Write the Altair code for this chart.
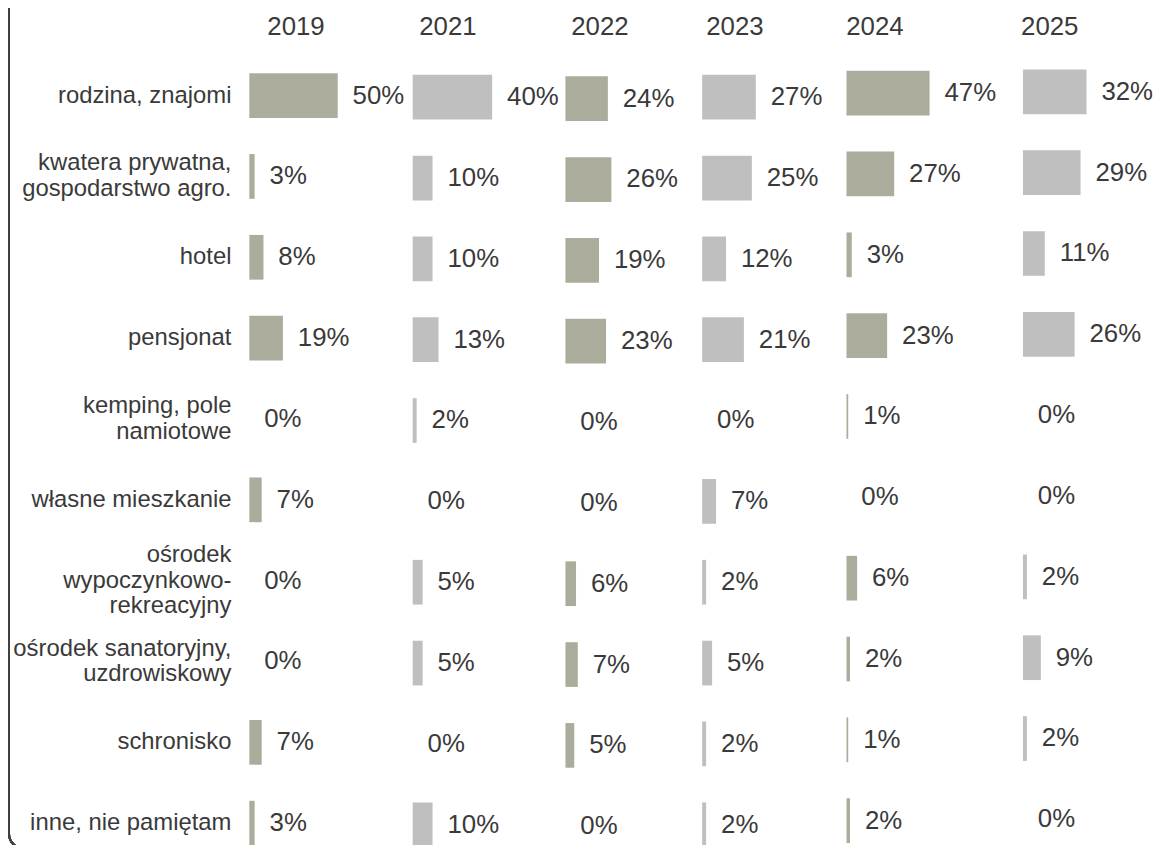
import altair as alt
import pandas as pd

categories = [
    "rodzina, znajomi",
    "kwatera prywatna,|gospodarstwo agro.",
    "hotel",
    "pensjonat",
    "kemping, pole|namiotowe",
    "własne mieszkanie",
    "ośrodek|wypoczynkowo-|rekreacyjny",
    "ośrodek sanatoryjny,|uzdrowiskowy",
    "schronisko",
    "inne, nie pamiętam",
]
years = ["2019", "2021", "2022", "2023", "2024", "2025"]

v2019 = [50, 3, 8, 19, 0, 7, 0, 0, 7, 3]
v2021 = [40, 10, 10, 13, 2, 0, 5, 5, 0, 10]
v2022 = [24, 26, 19, 23, 0, 0, 6, 7, 5, 0]
v2023 = [27, 25, 12, 21, 0, 7, 2, 5, 2, 2]
v2024 = [47, 27, 3, 23, 1, 0, 6, 2, 1, 2]
v2025 = [32, 29, 11, 26, 0, 0, 2, 9, 2, 0]
series = [v2019, v2021, v2022, v2023, v2024, v2025]

# layout / style per column (not data)
col_start = [8, 172.5, 326.3, 464, 609.3, 787]      # bar origin (px in plot)
col_ppp = [1.78, 2.0, 1.78, 2.0, 1.78, 2.0]          # px per percent
col_dy = [0, 1.6, 3.1, 1.6, -2.5, -3.8]              # vertical shift
col_head = [55, 208, 361, 497, 638, 814]             # header centre
col_color = ["#ACAC9C", "#BFBFBF", "#ACAC9C", "#BFBFBF", "#ACAC9C", "#BFBFBF"]

PLOT_H = 814
TEXT = "#3a3a3a"
FONT = "Liberation Sans"
LINE_H = 26

rows = []
for y, vals in zip(years, series):
    for c, v in zip(categories, vals):
        rows.append({"year": y, "cat": c, "value": v, "label": f"{v}%"})
df = pd.DataFrame(rows)
cat_df = pd.DataFrame({"cat": categories})
year_df = pd.DataFrame({"year": years})

layers = []
for i, yr in enumerate(years):
    xs = alt.Scale(domain=[0, 100], range=[col_start[i], col_start[i] + 100 * col_ppp[i]])
    ys = alt.Scale(domain=categories, range=[col_dy[i], PLOT_H + col_dy[i]],
                   paddingInner=0.447, paddingOuter=0.2235)
    base = alt.Chart(df).transform_filter(alt.datum.year == yr)
    bars = base.mark_bar(color=col_color[i]).encode(
        x=alt.X("value:Q", scale=xs, axis=None),
        y=alt.Y("cat:N", scale=ys, sort=categories, axis=None),
    )
    txt = base.mark_text(align="left", baseline="middle", dx=15, fontSize=26,
                         font=FONT, color=TEXT).encode(
        x=alt.X("value:Q", scale=xs, axis=None),
        y=alt.Y("cat:N", scale=ys, sort=categories, axis=None),
        text="label:N",
    )
    head = alt.Chart(year_df).transform_filter(alt.datum.year == yr).mark_text(
        align="center", baseline="middle", fontSize=26, font=FONT, color=TEXT
    ).encode(x=alt.value(col_head[i]), y=alt.value(-28), text="year:N")
    parts = [bars, txt, head]
    if i == 0:
        for n in (1, 2, 3):
            cats = alt.Chart(cat_df).transform_calculate(
                lines="split(datum.cat, '|')"
            ).transform_calculate(
                n="length(datum.lines)"
            ).transform_filter(alt.datum.n == n).mark_text(
                align="right", baseline="middle", fontSize=24, font=FONT,
                color=TEXT, lineHeight=LINE_H, dy=-(n - 1) * LINE_H / 2
            ).encode(
                x=alt.value(-10),
                y=alt.Y("cat:N", scale=ys, sort=categories, axis=None),
                text="lines:N",
            )
            parts.append(cats)
    layers.append(alt.layer(*parts))

frame = alt.Chart(year_df).mark_rect(
    filled=False, stroke="#404040", strokeWidth=2, cornerRadius=15
).encode(
    x=alt.value(-234), x2=alt.value(1400), y=alt.value(-80), y2=alt.value(799)
)

blob = alt.Chart(pd.DataFrame({"k": [0]})).mark_point(
    shape="circle", filled=True, color="#333333", size=13273, opacity=1
).encode(x=alt.value(-175.5), y=alt.value(-106))

chart = alt.layer(frame, blob, *layers).resolve_scale(
    x="independent", y="independent"
).properties(
    width=925, height=PLOT_H,
    padding={"left": 235, "top": 44.5, "right": 0, "bottom": 10},
    autosize=alt.AutoSizeParams(type="none"),
).configure_view(stroke=None)

chart.save("out.html", embed_options={"renderer": "svg", "actions": False})
